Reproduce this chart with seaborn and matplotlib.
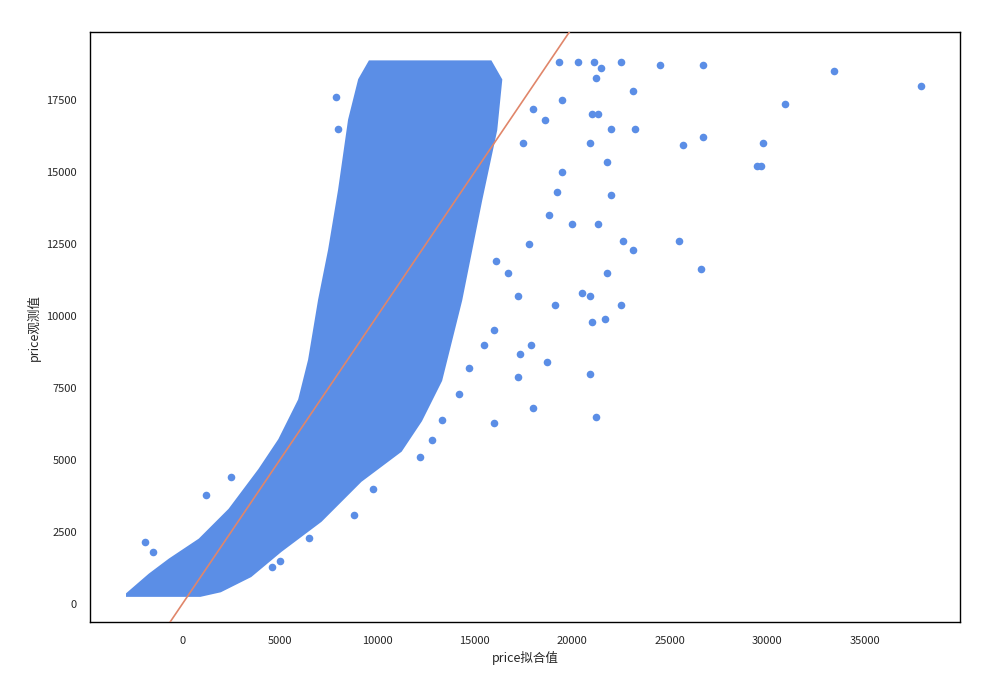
import matplotlib
matplotlib.use("Agg")
import matplotlib.pyplot as plt
import seaborn as sns
import numpy as np

sns.set_theme(style="white")
plt.rcParams['font.family'] = ['Noto Sans CJK SC', 'DejaVu Sans']
plt.rcParams['axes.unicode_minus'] = False

# Outline of the dense cloud (fitted, observed)
band_x = [-2769, -1641, -615, 923, 2462, 4000, 5026, 6051, 6564, 7077, 7590, 8103, 8615, 9128, 9641,
          11179, 14256, 15795, 16308, 16051, 15282, 14769, 14256, 13231, 12205, 11179, 9128, 7077,
          5026, 3487, 1949, 923, -1641, -2769]
band_y = [347, 1007, 1528, 2222, 3264, 4653, 5694, 7083, 8472, 10556, 12292, 14375, 16806, 18194, 18800,
          18800, 18800, 18800, 18194, 16458, 14028, 12292, 10556, 7778, 6389, 5347, 4306, 2917,
          1875, 1007, 486, 330, 330, 330]

# Scattered points outside the dense cloud
out_x = [26700, 33400, 37900, 30900, 29800, 26700, 25700, 29500, 29700, 22000, 21800, -1900, -1500, 1200,
         16000, 18000, 21200, 20900, 18700, 17300, 17200, 17900, 19100, 21000, 21700, 22500, 20500, 20900,
         21300, 20000, 22600, 23100, 25500, 26600, 21800, 19500, 19200, 21000, 21300, 22000, 23200, 21200,
         21500, 20300, 19300, 21100, 22500, 24500, 23100, 20900, 18600, 19500, 18000, 17500, 18800, 17800,
         16700, 16100, 17200, 16000, 15500, 14700, 14200, 13300, 12800, 12200, 11000, 11300, 3200, 5000,
         6500, 8800, 9800, 9000, 9900, 8000, 9500, 7900, 4600, 2500]
out_y = [18700, 18500, 18000, 17350, 16000, 16200, 15950, 15200, 15200, 14200, 15350, 2150, 1800, 3800,
         6300, 6800, 6500, 8000, 8400, 8700, 7900, 9000, 10400, 9800, 9900, 10400, 10800, 10700,
         13200, 13200, 12600, 12300, 12600, 11650, 11500, 15000, 14300, 17000, 17000, 16500, 16500, 18250,
         18600, 18800, 18800, 18800, 18800, 18700, 17800, 16000, 16800, 17500, 17200, 16000, 13500, 12500,
         11500, 11900, 10700, 9500, 9000, 8200, 7300, 6400, 5700, 5100, 5900, 6500, 1800, 1500,
         2300, 3100, 4000, 10000, 15000, 16500, 17000, 17600, 1300, 4400]

color = "#5b8ee6"
fig = plt.figure(figsize=(9.9, 6.93), dpi=100)
ax = fig.add_axes([0.091, 0.102, 0.879, 0.852])
ax.fill(band_x, band_y, color=color, lw=3, ec=color, zorder=2)
sns.scatterplot(x=out_x, y=out_y, ax=ax, color=color, s=30, edgecolor=color, linewidth=0, zorder=3)
ax.axline((0, 0), slope=1, color="#e0866a", lw=1.2, zorder=4)
ax.set_xlim(-4718, 39900)
ax.set_ylim(-625, 19861)
ax.set_xticks(range(0, 40000, 5000))
ax.set_yticks(range(0, 20000, 2500))
ax.tick_params(labelsize=8)
for s in ax.spines.values():
    s.set_color("black")
    s.set_linewidth(1)
ax.set_xlabel("price拟合值", fontsize=9)
ax.set_ylabel("price观测值", fontsize=9)
fig.savefig("out.png", dpi=100)
